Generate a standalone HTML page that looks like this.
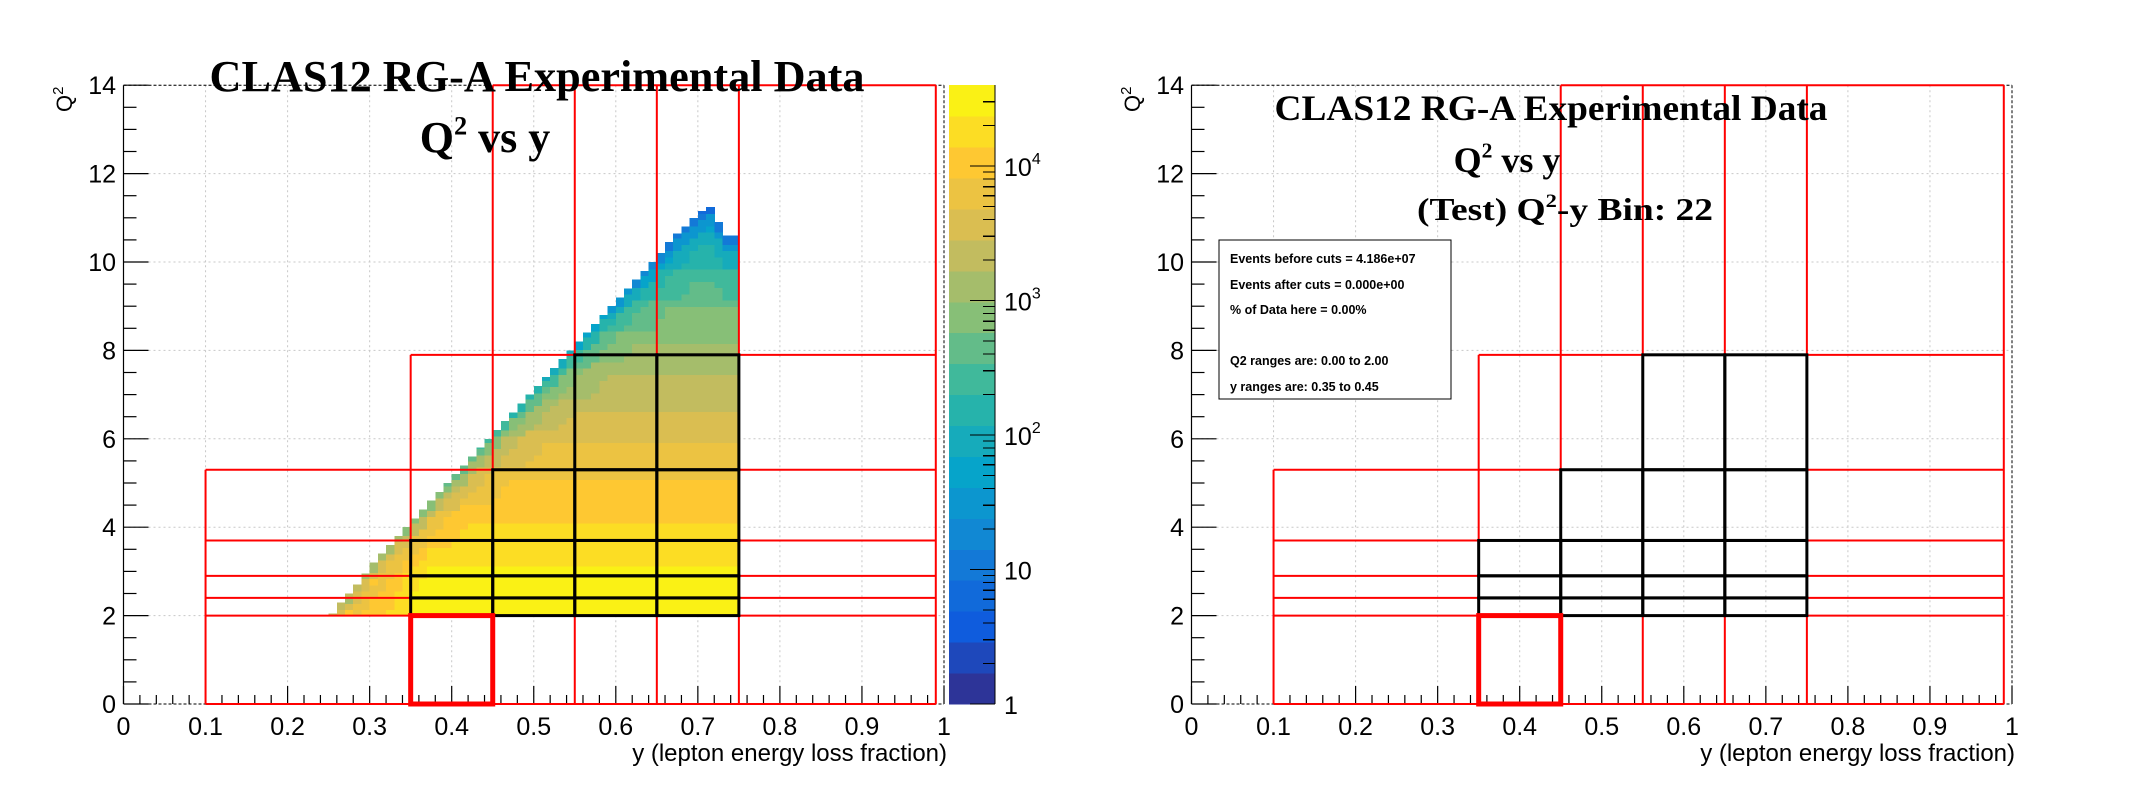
<!DOCTYPE html>
<html><head><meta charset="utf-8"><style>
html,body{margin:0;padding:0;background:#fff;}
svg{display:block;}
text{font-family:"Liberation Sans",sans-serif;}
.ser{font-family:"Liberation Serif",serif;font-weight:bold;}
</style></head><body>
<svg id="root" width="2136" height="790" viewBox="0 0 2136 790" xmlns="http://www.w3.org/2000/svg">
<g id="left"></g>
<g id="right" transform="translate(1068,0)"></g>
</svg>
<script>
// ---- data ----
const yBinStart = 0.25;               // first histogram column (y)
const yBinWidth = 0.01;
const edgeQ2 = [2.05,2.3,2.5,2.7,2.95,3.2,3.4,3.6,3.8,4.0,
                4.2,4.4,4.6,4.8,5.0,5.2,5.4,5.6,5.8,6.0,
                6.2,6.4,6.6,6.8,7.0,7.2,7.4,7.6,7.8,8.0,
                8.2,8.4,8.6,8.8,9.0,9.2,9.4,9.6,9.8,10.0,
                10.2,10.45,10.65,10.8,11.0,11.15,11.25,10.9,10.6,10.6];
const q2Levels = [2,3,4,5,6,7,8,9,10,11,12];
const logCountByQ2 = [4.5,4.42,4.15,3.95,3.65,3.35,3.05,2.75,2.4,2.15,1.9];
const edgeDist = [0.15,0.4,0.8,1.5];
const edgeDrop = [1.2,0.75,0.4,0.15];
const binYEdges = [0.1,0.35,0.45,0.55,0.65,0.75,0.99];
const binQ2Edges = [0,2.0,2.4,2.9,3.7,5.3,7.9,14];
const xTicks = [0,0.1,0.2,0.3,0.4,0.5,0.6,0.7,0.8,0.9,1];
const xTickLabels = ["0","0.1","0.2","0.3","0.4","0.5","0.6","0.7","0.8","0.9","1"];
const yTicks = [0,2,4,6,8,10,12,14];
const yTickLabels = ["0","2","4","6","8","10","12","14"];
const zDecades = [0,1,2,3,4];
const zLabels = ["1","10","10","10","10"];
const zSup = ["","","2","3","4"];
const zMax = 4.6;
const statLines = ["Events before cuts = 4.186e+07","Events after cuts  = 0.000e+00","% of Data here = 0.00%","","Q2 ranges are: 0.00 to 2.00","y   ranges are: 0.35 to 0.45"];

// ---- axes ----
const X0=123.5, X1=944, Y0=704, Y1=85.2;
const X = v => X0 + v*(X1-X0);
const Y = q => Y0 - q*(Y0-Y1)/14;
const Z = l => Y0 - l*(Y0-Y1)/zMax;
const NS="http://www.w3.org/2000/svg";
function mk(parent,tag,attrs,txt){const e=document.createElementNS(NS,tag);for(const k in attrs)e.setAttribute(k,attrs[k]);if(txt!==undefined)e.textContent=txt;parent.appendChild(e);return e;}

const bird=[[0,.2082,.1664,.5293],[.125,.0592,.3599,.8684],[.25,.078,.5041,.8385],[.375,.0232,.6419,.7914],[.5,.1802,.7178,.6425],[.625,.5301,.7492,.4662],[.75,.8186,.7328,.3499],[.875,.9956,.7862,.1968],[1,.9764,.9832,.0539]];
function birdColor(t){t=Math.max(0,Math.min(1,t));for(let i=1;i<bird.length;i++){if(t<=bird[i][0]){const a=bird[i-1],b=bird[i];const f=(t-a[0])/(b[0]-a[0]);return `rgb(${[1,2,3].map(j=>Math.round(255*(a[j]+f*(b[j]-a[j])))).join(',')})`;}}return 'rgb(249,251,14)';}
const NB=20;
function bandColor(l){let b=Math.floor(l/zMax*NB);b=Math.max(0,Math.min(NB-1,b));return birdColor((b+0.5)/NB);}
function baseLog(q){for(let i=1;i<q2Levels.length;i++){if(q<=q2Levels[i]){const f=(q-q2Levels[i-1])/(q2Levels[i]-q2Levels[i-1]);return logCountByQ2[i-1]+f*(logCountByQ2[i]-logCountByQ2[i-1]);}}return logCountByQ2[logCountByQ2.length-1];}

function drawFrame(g,withHist){
  const grid=mk(g,'g',{stroke:'#c8c8c8','stroke-width':1,'stroke-dasharray':'2,3'});
  
  
  xTicks.forEach(v=>mk(grid,'line',{x1:X(v),x2:X(v),y1:Y1,y2:Y0}));
  yTicks.forEach(v=>mk(grid,'line',{x1:X0,x2:X1,y1:Y(v),y2:Y(v)}));
  if(withHist){
    const h=mk(g,'g',{'shape-rendering':'crispEdges'});
    
    
    const dq=0.14;
    edgeQ2.forEach((top,i)=>{
      const y0=yBinStart+i*yBinWidth;
      for(let q=2;q<top-1e-9;q+=dq){
        const qt=Math.min(q+dq,top);
        const d=top-(q+qt)/2;
        let l=baseLog((q+qt)/2);
        for(let k=0;k<edgeDist.length;k++){if(d<edgeDist[k]){l-=edgeDrop[k];break;}}
        if(i<12){l-=0.5*(12-i)/12*Math.min(1,d);}
        const r=mk(h,'rect',{x:X(y0),y:Y(qt),width:X(y0+yBinWidth)-X(y0)+0.6,height:Y(q)-Y(qt)+0.6,fill:bandColor(l)});
        
        
      }
    });
  }
  mk(g,'line',{x1:X0,x2:X0,y1:Y1,y2:Y0,stroke:'#000','stroke-width':1.2});
  mk(g,'line',{x1:X0,x2:X1,y1:Y0,y2:Y0,stroke:'#000','stroke-width':1,'stroke-dasharray':'3,2'});
  mk(g,'line',{x1:X0,x2:X1,y1:Y1,y2:Y1,stroke:'#000','stroke-width':1,'stroke-dasharray':'3,2'});
  mk(g,'line',{x1:X1,x2:X1,y1:Y1,y2:Y0,stroke:'#000','stroke-width':1,'stroke-dasharray':'3,2'});
  const tk=mk(g,'g',{stroke:'#000','stroke-width':1.2});
  for(let i=0;i<=50;i++){const v=i*0.02;const major=i%5===0;mk(tk,'line',{x1:X(v),x2:X(v),y1:Y0,y2:Y0-(major?18:9)});}
  for(let i=0;i<=28;i++){const v=i*0.5;const major=i%4===0;mk(tk,'line',{x1:X0,x2:X0+(major?25:13),y1:Y(v),y2:Y(v)});}
  xTicks.forEach((v,i)=>{const t=mk(g,'text',{x:X(v),y:735,'font-size':25,'text-anchor':'middle'},xTickLabels[i]);});
  yTicks.forEach((v,i)=>{const t=mk(g,'text',{x:116,y:Y(v)+9,'font-size':25,'text-anchor':'end'},yTickLabels[i]);});
  const xt=mk(g,'text',{x:947,y:761,'font-size':24,'text-anchor':'end'},'y (lepton energy loss fraction)');
  
  const yt=mk(g,'text',{transform:'translate(72,112) rotate(-90)','font-size':22},'Q');
  mk(yt,'tspan',{dy:-9,'font-size':15},'2');
  
  const red=mk(g,'g',{stroke:'#ff0000','stroke-width':2,fill:'none'});
  
  const vtop=[5.3,7.9,14,14,14,14,14];
  binYEdges.forEach((v,i)=>mk(red,'line',{x1:X(v),x2:X(v),y1:Y(0),y2:Y(vtop[i])}));
  const hstart=[0.1,0.1,0.1,0.1,0.1,0.1,0.35,0.45];
  binQ2Edges.forEach((q,i)=>mk(red,'line',{x1:X(hstart[i]),x2:X(0.99),y1:Y(q),y2:Y(q)}));
  const blk=mk(g,'g',{stroke:'#000','stroke-width':3,fill:'none'});
  
  [[0.35,2.0,2.4],[0.35,2.4,2.9],[0.35,2.9,3.7],[0.45,3.7,5.3],[0.55,5.3,7.9]].forEach(([ys,q0,q1])=>{
    for(let j=binYEdges.indexOf(ys);j<5;j++){mk(blk,'rect',{x:X(binYEdges[j]),y:Y(q1),width:X(binYEdges[j+1])-X(binYEdges[j]),height:Y(q0)-Y(q1)});}
  });
  const sel=mk(g,'rect',{x:X(0.35),y:Y(2),width:X(0.45)-X(0.35),height:Y(0)-Y(2),fill:'none',stroke:'#ff0000','stroke-width':5});
  
}

const L=document.getElementById('left'), R=document.getElementById('right');
drawFrame(L,true);
drawFrame(R,false);

const pal=mk(L,'g',{'shape-rendering':'crispEdges'});

for(let b=0;b<NB;b++){const l0=b*zMax/NB,l1=(b+1)*zMax/NB;mk(pal,'rect',{x:949,y:Z(l1),width:46,height:Z(l0)-Z(l1)+0.5,fill:birdColor((b+0.5)/NB)});}
mk(pal,'line',{x1:995,x2:995,y1:Y1,y2:Y0,stroke:'#000','stroke-width':1.2});
zDecades.forEach(d=>{for(let k=1;k<=9;k++){const l=d+Math.log10(k);if(l>zMax)break;mk(pal,'line',{x1:995,x2:995-(k===1?25:12),y1:Z(l),y2:Z(l),stroke:'#000','stroke-width':1.2});}});
zDecades.forEach((d,i)=>{const t=mk(L,'text',{x:1004,y:Z(d)+10,'font-size':25},zLabels[i]);if(zSup[i])mk(t,'tspan',{dy:-12,'font-size':16},zSup[i]);});

function title(g,x,y,size,len,parts,name){const t=mk(g,'text',{x:x,y:y,'font-size':size,class:'ser','text-anchor':'middle'});parts.forEach(p=>{if(p[1])mk(t,'tspan',{dy:-size*0.4,'font-size':size*0.6},p[0]);else mk(t,'tspan',{dy:p[2]||0},p[0]);});if(len){t.setAttribute('textLength',len);t.setAttribute('lengthAdjust','spacingAndGlyphs');}return t;}
title(L,537,91,44,655,[["CLAS12 RG-A Experimental Data"]],'plot-title');
title(L,485,152,44,0,[["Q"],["2",true],[" vs y",false,17.6]],'plot-subtitle');
title(R,483,120,36,553,[["CLAS12 RG-A Experimental Data"]],'plot-title');
title(R,439,172,36,0,[["Q"],["2",true],[" vs y",false,14.4]],'plot-subtitle');
title(R,497,220,32,296,[["(Test) Q"],["2",true],["-y Bin: 22",false,12.8]],'bin-title');

const sb=mk(R,'g',{});

mk(sb,'rect',{x:151,y:240,width:232,height:159,fill:'#fff',stroke:'#000','stroke-width':1});
const sy=[259,285,310,335,361,387];
statLines.forEach((s,i)=>{if(!s)return;const t=mk(sb,'text',{x:162,y:sy[i]+4,'font-size':12.5,'font-weight':'bold'},s);});
</script>
</body></html>
